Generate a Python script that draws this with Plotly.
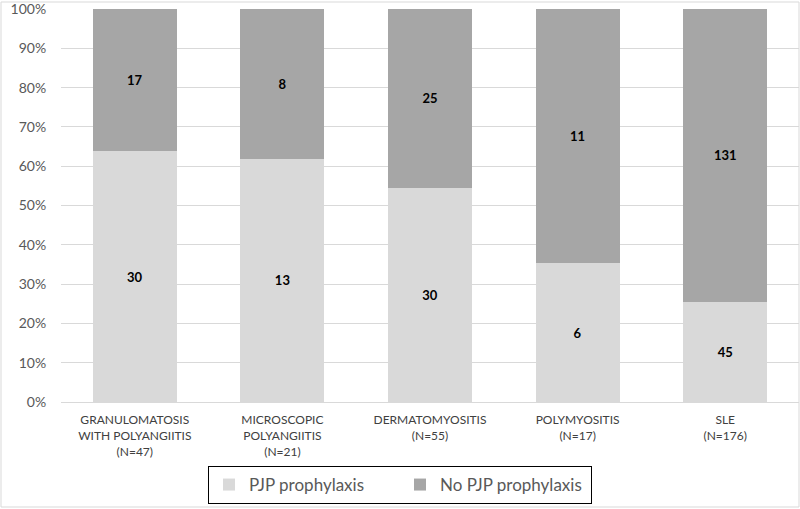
import plotly.graph_objects as go

categories = [
    "GRANULOMATOSIS<br>WITH POLYANGIITIS<br>(N=47)",
    "MICROSCOPIC<br>POLYANGIITIS<br>(N=21)",
    "DERMATOMYOSITIS<br>(N=55)",
    "POLYMYOSITIS<br>(N=17)",
    "SLE<br>(N=176)",
]
pjp = [30, 13, 30, 6, 45]
no_pjp = [17, 8, 25, 11, 131]
y_ticks = [0, 10, 20, 30, 40, 50, 60, 70, 80, 90, 100]
y_tick_labels = [f"{v}%" for v in y_ticks]

W, H = 800, 509
ml, mr, mt, mb = 61, 1, 9, 107
pw, ph = W - ml - mr, H - mt - mb

def px_x(x):
    return (x - ml) / pw

def px_y(y):
    return (H - mb - y) / ph

label_font = dict(family="Lato", size=13, color="black", weight="bold")

fig = go.Figure()
fig.add_trace(go.Bar(
    name="PJP prophylaxis", x=categories, y=pjp, text=pjp,
    marker=dict(color="#d9d9d9", line=dict(width=0)),
    textposition="inside", insidetextanchor="middle",
    textfont=label_font,
))
fig.add_trace(go.Bar(
    name="No PJP prophylaxis", x=categories, y=no_pjp, text=no_pjp,
    marker=dict(color="#a6a6a6", line=dict(width=0)),
    textposition="inside", insidetextanchor="middle",
    textfont=label_font,
))

fig.update_layout(
    width=W, height=H,
    barmode="stack", barnorm="percent", bargap=0.43,
    margin=dict(l=ml, r=mr, t=mt, b=mb, autoexpand=False),
    plot_bgcolor="white", paper_bgcolor="white",
    font=dict(family="Lato", color="#595959"),
    xaxis=dict(
        showgrid=False, showline=False, automargin=False,
        ticks="outside", ticklen=7, tickcolor="rgba(0,0,0,0)",
        tickfont=dict(family="Lato", size=12, color="#404040"),
    ),
    yaxis=dict(
        range=[0, 100.0001], tickvals=y_ticks, ticktext=y_tick_labels,
        showgrid=True, gridcolor="#d9d9d9", gridwidth=1,
        zeroline=True, zerolinecolor="#d9d9d9", zerolinewidth=1,
        tickfont=dict(family="Lato", size=14, color="#595959"),
        ticks="outside", ticklen=11, tickcolor="rgba(0,0,0,0)",
        automargin=False, ticklabeloverflow="allow",
    ),
    legend=dict(
        orientation="h", x=px_x(400), xanchor="center",
        y=px_y(466), yanchor="top",
        bordercolor="black", borderwidth=1,
        font=dict(family="Lato", size=17, color="#595959"),
        traceorder="normal", entrywidth=146, entrywidthmode="pixels",
    ),
    showlegend=True,
    shapes=[dict(
        type="rect", xref="paper", yref="paper",
        x0=px_x(1), x1=px_x(799), y0=px_y(507), y1=px_y(2),
        line=dict(color="#d9d9d9", width=1), fillcolor="rgba(0,0,0,0)",
        layer="below",
    )],
)

fig.write_html(
    "out.html",
    config={"displayModeBar": False},
    post_script="document.body.style.margin='0';document.body.style.overflow='hidden';",
)
